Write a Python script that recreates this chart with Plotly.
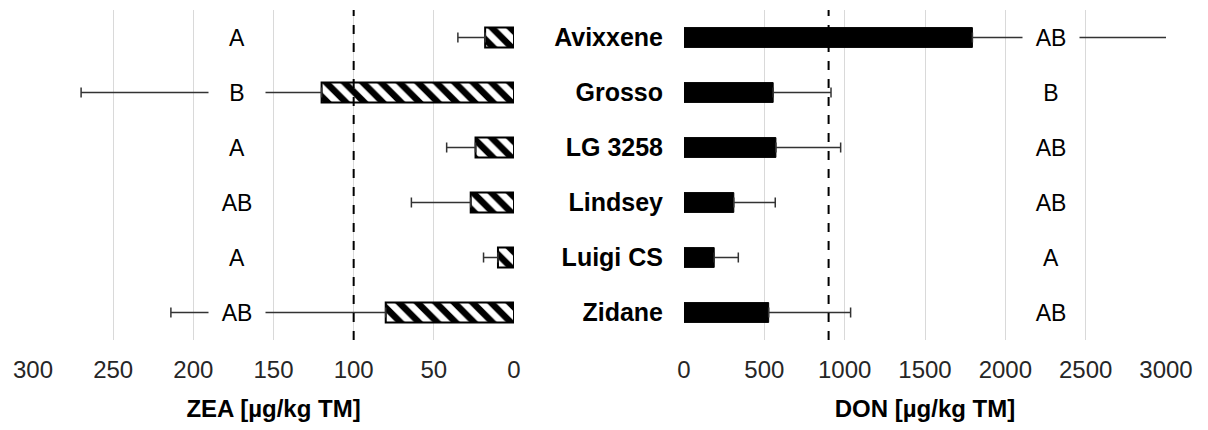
import plotly.graph_objects as go
from plotly.subplots import make_subplots

categories = ["Avixxene", "Grosso", "LG 3258", "Lindsey", "Luigi CS", "Zidane"]
zea_mean = [18, 120, 24, 27, 10, 80]
zea_err = [17, 150, 18, 37, 9, 134]
don_mean = [1795, 555, 572, 310, 188, 527]
don_err = [1305, 360, 403, 258, 150, 510]
zea_letters = ["A", "B", "A", "AB", "A", "AB"]
don_letters = ["AB", "B", "AB", "AB", "A", "AB"]
zea_letter_x = 173
don_letter_x = 2285
zea_limit = 100
don_limit = 900
zea_ticks = [0, 50, 100, 150, 200, 250, 300]
don_ticks = [0, 500, 1000, 1500, 2000, 2500, 3000]

FONT = "Liberation Sans"

fig = make_subplots(rows=1, cols=2, horizontal_spacing=0.05)

fig.add_trace(go.Bar(
    y=categories, x=zea_mean, orientation="h", width=0.36,
    marker=dict(color="white", line=dict(color="black", width=2),
                pattern=dict(shape="\\", fgcolor="black", bgcolor="white", fgopacity=1,
                             size=13, solidity=0.5, fillmode="replace")),
    error_x=dict(type="data", array=zea_err, arrayminus=[0]*6, symmetric=False,
                 color="#333333", thickness=1.5, width=5),
    showlegend=False), row=1, col=1)

fig.add_trace(go.Bar(
    y=categories, x=don_mean, orientation="h", width=0.36,
    marker=dict(color="black", line=dict(color="black", width=1)),
    error_x=dict(type="data", array=don_err, arrayminus=[0]*6, symmetric=False,
                 color="#333333", thickness=1.5, width=5),
    showlegend=False), row=1, col=2)

# page body has an 8px margin; the figure is sized to the visible area
W, H = 1200, 422
left_dom = [25 / W, 506 / W]
right_dom = [676 / W, 1158 / W]

fig.update_layout(
    width=W, height=H,
    margin=dict(l=0, r=0, t=2, b=90, autoexpand=False),
    plot_bgcolor="white", paper_bgcolor="white",
    font=dict(family=FONT, color="#262626"),
)

common_x = dict(showgrid=True, gridcolor="#d9d9d9", gridwidth=1, zeroline=False,
                showline=False, ticks="", tickfont=dict(size=24, color="#262626"),
                ticklabelstandoff=13, automargin=False)
fig.update_xaxes(row=1, col=1, domain=left_dom, range=[300, 0], tickvals=zea_ticks,
                 title=dict(text="<b>ZEA [µg/kg TM]</b>", font=dict(size=24, color="black"), standoff=18),
                 **common_x)
fig.update_xaxes(row=1, col=2, domain=right_dom, range=[0, 3000], tickvals=don_ticks,
                 title=dict(text="<b>DON [µg/kg TM]</b>", font=dict(size=24, color="black"), standoff=18),
                 **common_x)
fig.update_yaxes(row=1, col=1, autorange="reversed", showticklabels=False, automargin=False,
                 showgrid=False, zeroline=False, showline=False, ticks="")
fig.update_yaxes(row=1, col=2, autorange="reversed", showgrid=False, zeroline=False,
                 showline=False, ticks="", ticklabelstandoff=20, automargin=False,
                 tickfont=dict(size=25, color="black", family=FONT, weight="bold"))

# limit lines
fig.add_shape(type="line", xref="x", yref="y domain", x0=zea_limit, x1=zea_limit, y0=0, y1=1,
              line=dict(color="black", width=2, dash="dash"))
fig.add_shape(type="line", xref="x2", yref="y2 domain", x0=don_limit, x1=don_limit, y0=0, y1=1,
              line=dict(color="black", width=2, dash="dash"))

for c, l in zip(categories, zea_letters):
    fig.add_annotation(x=zea_letter_x, y=c, xref="x", yref="y", text=l, showarrow=False,
                       font=dict(size=23, color="black"), bgcolor="white", width=54)
for c, l in zip(categories, don_letters):
    fig.add_annotation(x=don_letter_x, y=c, xref="x2", yref="y2", text=l, showarrow=False,
                       font=dict(size=23, color="black"), bgcolor="white", width=54)

fig.write_html("out.html")
